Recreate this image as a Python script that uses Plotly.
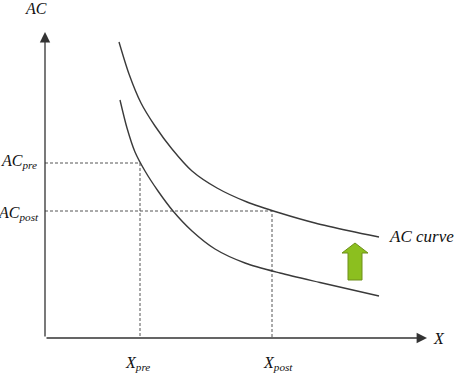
import plotly.graph_objects as go

# Curve data (output X, average cost AC)
upper_x = [74, 84, 96, 110, 127, 147, 172, 202, 235, 270, 305, 334]
upper_y = [296, 264, 235, 212, 189, 167, 150, 136, 125, 115, 107, 101]
lower_x = [75, 82, 90, 100, 113, 128, 147, 170, 200, 235, 275, 334]
lower_y = [238, 210, 186, 167, 147, 127, 107, 89, 75, 65, 55.5, 42]

x_pre, x_post = 95, 227
ac_pre, ac_post = 175, 127
x_axis_end, y_axis_end = 382, 306

# green arrow (shift up), centre x, bottom, head base, top
arrow_cx, arrow_bottom, arrow_headbase, arrow_top = 310, 58, 85, 95
arrow_half_head, arrow_half_shaft = 13, 7

FONT = "Times New Roman, Liberation Serif, serif"
line_col = "#3a3a3a"
dash_col = "#555555"

fig = go.Figure()

# dashed guide lines
fig.add_trace(go.Scatter(x=[0, x_pre, x_pre], y=[ac_pre, ac_pre, 0], mode="lines",
                         line=dict(color=dash_col, width=1, dash="3px,2px"), hoverinfo="skip"))
fig.add_trace(go.Scatter(x=[0, x_post, x_post], y=[ac_post, ac_post, 0], mode="lines",
                         line=dict(color=dash_col, width=1, dash="3px,2px"), hoverinfo="skip"))

# AC curves
fig.add_trace(go.Scatter(x=upper_x, y=upper_y, mode="lines", line_shape="spline",
                         line=dict(color=line_col, width=1.4, smoothing=0.8), hoverinfo="skip"))
fig.add_trace(go.Scatter(x=lower_x, y=lower_y, mode="lines", line_shape="spline",
                         line=dict(color=line_col, width=1.4, smoothing=0.8), hoverinfo="skip"))

# green arrow polygon
ax_pts = [arrow_cx - arrow_half_shaft, arrow_cx - arrow_half_shaft, arrow_cx - arrow_half_head,
          arrow_cx, arrow_cx + arrow_half_head, arrow_cx + arrow_half_shaft,
          arrow_cx + arrow_half_shaft, arrow_cx - arrow_half_shaft]
ay_pts = [arrow_bottom, arrow_headbase, arrow_headbase, arrow_top, arrow_headbase,
          arrow_headbase, arrow_bottom, arrow_bottom]
fig.add_trace(go.Scatter(x=ax_pts, y=ay_pts, mode="lines", fill="toself",
                         fillcolor="#8cbf1f", line=dict(color="#6e8f1a", width=1),
                         hoverinfo="skip"))

# axes with arrows
for (x, y) in [(x_axis_end, 0), (0, y_axis_end)]:
    fig.add_annotation(x=x, y=y, ax=0, ay=0, xref="x", yref="y", axref="x", ayref="y",
                       text="", showarrow=True, arrowhead=2, arrowsize=1.6,
                       arrowwidth=1.3, arrowcolor="#333333")

def label(text, x, y, xanchor="center", size=16):
    fig.add_annotation(x=x, y=y, xref="x", yref="y", text=text, showarrow=False,
                       xanchor=xanchor, yanchor="middle",
                       font=dict(family=FONT, size=size, color="#111111"))

label("<i>AC</i>", -9, 330)
label("<i>X</i>", 386, 0, xanchor="left")
label("<i>AC<sub>pre</sub></i>", -6, 177, xanchor="right")
label("<i>AC<sub>post</sub></i>", -4, 125, xanchor="right")
label("<i>X<sub>pre</sub></i>", x_pre - 3, -25)
label("<i>X<sub>post</sub></i>", x_post + 6, -25)
label("<i>AC curve</i>", 342, 102, xanchor="left", size=17)

fig.update_layout(
    width=454, height=373,
    margin=dict(l=0, r=0, t=0, b=0),
    paper_bgcolor="white", plot_bgcolor="white",
    showlegend=False,
    xaxis=dict(range=[-45, 409], visible=False, fixedrange=True),
    yaxis=dict(range=[-35, 338], visible=False, fixedrange=True),
)

fig.write_html("out.html")
